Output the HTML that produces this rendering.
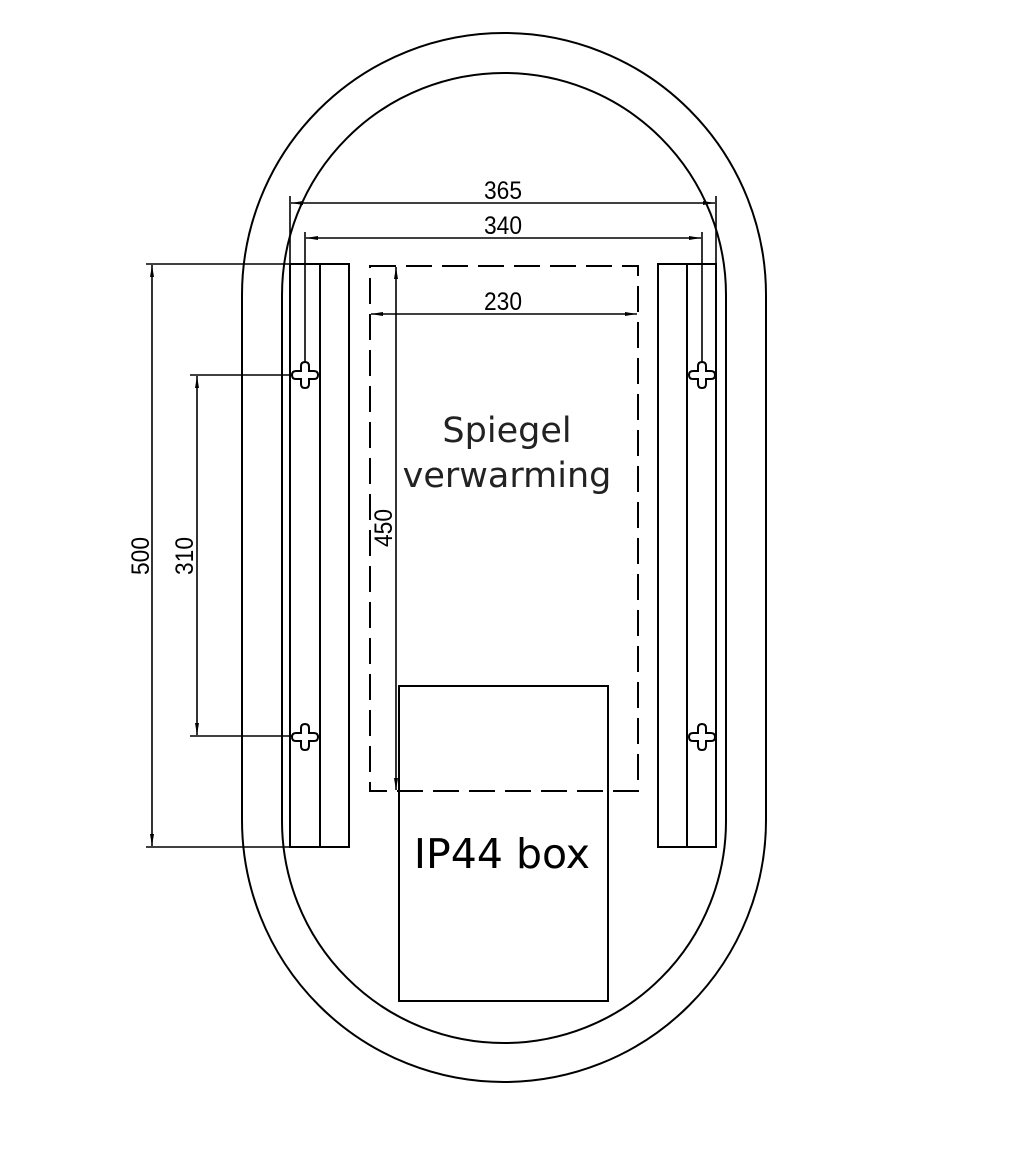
<!DOCTYPE html>
<html><head><meta charset="utf-8"><style>
html,body{margin:0;padding:0;background:#fff;}
svg{display:block;}
.d{font-family:"Liberation Sans",sans-serif;font-size:25px;fill:#000;}
</style></head><body>
<svg width="1018" height="1157" viewBox="0 0 1018 1157" xmlns="http://www.w3.org/2000/svg">
<defs>
<marker id="a" viewBox="0 0 12 4" refX="12" refY="2" markerWidth="12" markerHeight="4" orient="auto-start-reverse" markerUnits="userSpaceOnUse"><path d="M0,0 L12,2 L0,4 z" fill="#000"/></marker>
<g id="cr"><path d="M-4,-9 Q-4,-13 0,-13 Q4,-13 4,-9 L4,-4 L9,-4 Q13,-4 13,0 Q13,4 9,4 L4,4 L4,9 Q4,13 0,13 Q-4,13 -4,9 L-4,4 L-9,4 Q-13,4 -13,0 Q-13,-4 -9,-4 L-4,-4 Z" fill="#fff" stroke="#000" stroke-width="2"/></g>
</defs>
<g fill="none" stroke="#000" stroke-width="2">
<rect x="242" y="33" width="524" height="1049" rx="262" ry="262"/>
<rect x="282" y="73" width="444" height="970" rx="222" ry="222"/>
<rect x="290" y="264" width="59" height="583" fill="#fff"/>
<line x1="320" y1="264" x2="320" y2="847"/>
<rect x="658" y="264" width="58" height="583" fill="#fff"/>
<line x1="687" y1="264" x2="687" y2="847"/>
<rect x="399" y="686" width="209" height="315"/>
<rect x="370" y="266" width="268" height="525" stroke-dasharray="26,10"/>
</g>
<g stroke="#000" stroke-width="1.6" fill="none">
<line x1="290" y1="196" x2="290" y2="264"/>
<line x1="716" y1="196" x2="716" y2="264"/>
<line x1="291" y1="203" x2="715" y2="203" marker-start="url(#a)" marker-end="url(#a)"/>
<line x1="305" y1="232" x2="305" y2="370"/>
<line x1="702" y1="232" x2="702" y2="370"/>
<line x1="306" y1="238" x2="701" y2="238" marker-start="url(#a)" marker-end="url(#a)"/>
<line x1="371" y1="314" x2="637" y2="314" marker-start="url(#a)" marker-end="url(#a)"/>
<line x1="396" y1="267" x2="396" y2="790" marker-start="url(#a)" marker-end="url(#a)"/>
<line x1="146" y1="264" x2="290" y2="264"/>
<line x1="146" y1="847" x2="290" y2="847"/>
<line x1="152" y1="265" x2="152" y2="846" marker-start="url(#a)" marker-end="url(#a)"/>
<line x1="190" y1="375" x2="300" y2="375"/>
<line x1="190" y1="736" x2="300" y2="736"/>
<line x1="197" y1="376" x2="197" y2="735" marker-start="url(#a)" marker-end="url(#a)"/>
</g>
<use href="#cr" x="305" y="375"/>
<use href="#cr" x="305" y="737"/>
<use href="#cr" x="702" y="375"/>
<use href="#cr" x="702" y="737"/>
<text class="d" x="503" y="199" text-anchor="middle" textLength="38" lengthAdjust="spacingAndGlyphs">365</text>
<text class="d" x="503" y="234" text-anchor="middle" textLength="38" lengthAdjust="spacingAndGlyphs">340</text>
<text class="d" x="503" y="310" text-anchor="middle" textLength="38" lengthAdjust="spacingAndGlyphs">230</text>
<text class="d" transform="translate(392,528) rotate(-90)" text-anchor="middle" textLength="38" lengthAdjust="spacingAndGlyphs">450</text>
<text class="d" transform="translate(149,556) rotate(-90)" text-anchor="middle" textLength="38" lengthAdjust="spacingAndGlyphs">500</text>
<text class="d" transform="translate(193,556) rotate(-90)" text-anchor="middle" textLength="38" lengthAdjust="spacingAndGlyphs">310</text>
<text x="507" y="442" text-anchor="middle" font-family="DejaVu Sans, sans-serif" font-size="35" fill="#222">Spiegel</text>
<text x="507" y="487" text-anchor="middle" font-family="DejaVu Sans, sans-serif" font-size="35" fill="#222">verwarming</text>
<text x="502" y="868" text-anchor="middle" font-family="DejaVu Sans, sans-serif" font-size="41" fill="#000">IP44 box</text>
</svg>
</body></html>
